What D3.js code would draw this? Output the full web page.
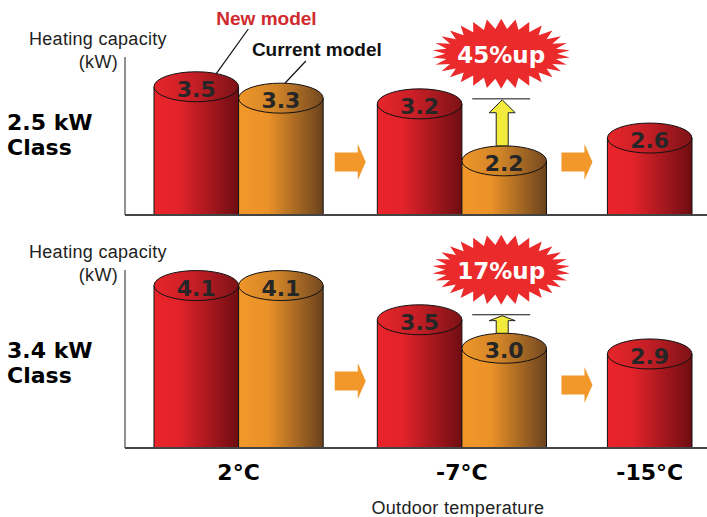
<!DOCTYPE html>
<html>
<head>
<meta charset="utf-8">
<script src="https://cdn.jsdelivr.net/npm/d3@7"></script>
<style>
  html, body { margin: 0; padding: 0; background: #fff; }
  svg { display: block; }
</style>
</head>
<body>
<svg id="chart" width="707" height="517"></svg>
<script>
// ---- data ----
const categories = ["2°C", "-7°C", "-15°C"];
const newModel25 = [3.5, 3.2, 2.6];
const currentModel25 = [3.3, 2.2, null];
const newModel34 = [4.1, 3.5, 2.9];
const currentModel34 = [4.1, 3.0, null];
const classNames = ["2.5 kW", "3.4 kW"];
const seriesNames = ["New model", "Current model"];
const yAxisTitle = ["Heating capacity", "(kW)"];
const xAxisTitle = "Outdoor temperature";
const kwAtBaseline = 1.25;   // value axis is truncated, bars start here
const compareIndex = 1;      // category where the two models are compared (-7°C)

// ---- layout ----
const W = 707, H = 517;
const pxPerKw = 57;
const ry = 15;                       // depth of cylinder tops
const gapUnits = [0.64, 0.72];       // gaps between groups, in bar widths
const axisX = 125;
const boldFont = "'DejaVu Sans', sans-serif";
const plainFont = "'Liberation Sans', Arial, sans-serif";

const panels = [
  { cls: classNames[0], newV: newModel25, curV: currentModel25,
    baseline: 215, axisTop: 57, titleY: 45, classY: 130, flowLift: [53, 53] },
  { cls: classNames[1], newV: newModel34, curV: currentModel34,
    baseline: 448, axisTop: 270, titleY: 258, classY: 358, flowLift: [67, 63] }
];

// slot positions (in bar widths) for each category group
const groupSize = categories.map((c, i) =>
  (currentModel25[i] != null || currentModel34[i] != null) ? 2 : 1);
const groupStart = [];
categories.forEach((c, i) => {
  groupStart.push(i === 0 ? 0 : groupStart[i - 1] + groupSize[i - 1] + gapUnits[i - 1]);
});
const totalUnits = groupStart[groupStart.length - 1] + groupSize[groupSize.length - 1];
const x = d3.scaleLinear().domain([0, totalUnits]).range([154, 692]);
const bw = x(1) - x(0);
const groupCenter = i => (x(groupStart[i]) + x(groupStart[i] + groupSize[i])) / 2;

const svg = d3.select("#chart");
svg.append("rect").attr("width", W).attr("height", H).attr("fill", "#fff");

// ---- gradients ----
const defs = svg.append("defs");
function grad(id, stops) {
  const g = defs.append("linearGradient").attr("id", id)
    .attr("x1", "0%").attr("x2", "100%").attr("y1", "0%").attr("y2", "0%");
  stops.forEach(([o, c]) => g.append("stop").attr("offset", o).attr("stop-color", c));
}
grad("redBody", [["0%", "#ea242a"], ["30%", "#e2232a"], ["100%", "#6e0d12"]]);
grad("orangeBody", [["0%", "#f2982a"], ["35%", "#ea9128"], ["100%", "#6a421e"]]);
grad("redTop", [["0%", "#e6262b"], ["45%", "#c81f26"], ["100%", "#7c1217"]]);
grad("orangeTop", [["0%", "#ef9629"], ["45%", "#d08428"], ["100%", "#744820"]]);

function cylinder(g, x0, v, y, kind) {
  const top = y(v), base = y(kwAtBaseline);
  g.append("rect").attr("x", x0).attr("y", top).attr("width", bw).attr("height", base - top)
    .attr("fill", `url(#${kind}Body)`);
  g.append("path")
    .attr("d", `M${x0},${base} L${x0},${top} M${x0 + bw},${top} L${x0 + bw},${base}`)
    .attr("stroke", "#111").attr("stroke-width", 1).attr("fill", "none");
  g.append("ellipse").attr("cx", x0 + bw / 2).attr("cy", top).attr("rx", bw / 2).attr("ry", ry)
    .attr("fill", `url(#${kind}Top)`).attr("stroke", "#111").attr("stroke-width", 1);
  g.append("text").attr("x", x0 + bw / 2).attr("y", top + 10)
    .attr("text-anchor", "middle").attr("font-family", boldFont).attr("font-weight", "bold")
    .attr("font-size", 22).attr("fill", "#262626").text(v.toFixed(1));
}

function burstPath(cx, cy, rx, ryy, rxIn, ryIn, n) {
  const pts = d3.range(n * 2).map(k => {
    const a = Math.PI * k / n - Math.PI / 2;
    const out = k % 2 === 0;
    return [cx + (out ? rx : rxIn) * Math.cos(a), cy + (out ? ryy : ryIn) * Math.sin(a)];
  });
  return d3.line().curve(d3.curveLinearClosed)(pts);
}

panels.forEach((p, pi) => {
  const g = svg.append("g");
  const y = d3.scaleLinear()
    .domain([kwAtBaseline, kwAtBaseline + (p.baseline - p.axisTop) / pxPerKw])
    .range([p.baseline, p.axisTop]);

  // axis titles and class label
  g.append("text").attr("x", 29).attr("y", p.titleY)
    .attr("font-family", plainFont).attr("font-size", 18).attr("letter-spacing", 0.3)
    .attr("fill", "#1e1e1e").text(yAxisTitle[0]);
  g.append("text").attr("x", 118).attr("y", p.titleY + 23).attr("text-anchor", "end")
    .attr("font-family", plainFont).attr("font-size", 18).attr("letter-spacing", 0.3)
    .attr("fill", "#1e1e1e").text(yAxisTitle[1]);
  const cl = g.append("text").attr("font-family", boldFont).attr("font-weight", "bold")
    .attr("font-size", 22).attr("fill", "#000");
  cl.append("tspan").attr("x", 7).attr("y", p.classY).text(p.cls);
  cl.append("tspan").attr("x", 7).attr("y", p.classY + 25).text("Class");

  // axes
  g.append("line").attr("x1", axisX).attr("x2", axisX)
    .attr("y1", y.range()[1]).attr("y2", y(kwAtBaseline))
    .attr("stroke", "#555").attr("stroke-width", 1.3);

  // flow arrows between temperature groups
  categories.slice(1).forEach((c, i) => {
    const gx = (x(groupStart[i] + groupSize[i]) + x(groupStart[i + 1])) / 2;
    const cy = p.baseline - p.flowLift[i];
    const x0 = gx - 15.5;
    g.append("path")
      .attr("d", `M${x0},${cy - 9.5} L${x0 + 23},${cy - 9.5} L${x0 + 23},${cy - 18} L${x0 + 31},${cy} ` +
                 `L${x0 + 23},${cy + 18} L${x0 + 23},${cy + 9.5} L${x0},${cy + 9.5} Z`)
      .attr("fill", "#f2982a");
  });

  // cylinders
  categories.forEach((c, i) => {
    cylinder(g, x(groupStart[i]), p.newV[i], y, "red");
    if (p.curV[i] != null) cylinder(g, x(groupStart[i] + 1), p.curV[i], y, "orange");
  });

  g.append("line").attr("x1", axisX).attr("x2", W)
    .attr("y1", y(kwAtBaseline)).attr("y2", y(kwAtBaseline))
    .attr("stroke", "#444").attr("stroke-width", 2);

  // improvement marker at the compared temperature
  const ci = compareIndex;
  const nv = p.newV[ci], cv = p.curV[ci];
  const ccx = x(groupStart[ci] + 1) + bw / 2;
  const levelY = y(nv) - 5;
  g.append("line").attr("x1", ccx - 32).attr("x2", ccx + 26)
    .attr("y1", levelY).attr("y2", levelY).attr("stroke", "#111").attr("stroke-width", 1);
  const tip = levelY + 1, bot = y(cv) - ry;
  const head = (bot - tip) * 0.28, ax = ccx - 2;
  g.append("path")
    .attr("d", `M${ax - 6},${bot} L${ax - 6},${tip + head} L${ax - 13},${tip + head} L${ax},${tip} ` +
               `L${ax + 13},${tip + head} L${ax + 6},${tip + head} L${ax + 6},${bot} Z`)
    .attr("fill", "#f3eb3b").attr("stroke", "#222").attr("stroke-width", 1);
  const bcx = ccx - 3, bcy = levelY - 45;
  g.append("path").attr("d", burstPath(bcx, bcy, 69, 35, 56, 25, 30)).attr("fill", "#ea2a2b");
  g.append("text").attr("x", bcx).attr("y", bcy + 9).attr("text-anchor", "middle")
    .attr("font-family", boldFont).attr("font-weight", "bold").attr("font-size", 23)
    .attr("fill", "#fff").text(Math.round((nv / cv - 1) * 100) + "%up");

  // series callouts on the first group of the top panel
  if (pi === 0) {
    const ncx = x(groupStart[0]) + bw / 2, kcx = x(groupStart[0] + 1) + bw / 2;
    const topAt = (cx, dx, v) => y(v) - ry * Math.sqrt(1 - (dx / (bw / 2)) ** 2);
    g.append("line").attr("x1", ncx + 52).attr("y1", 29).attr("x2", ncx + 20)
      .attr("y2", topAt(ncx, 20, p.newV[0])).attr("stroke", "#111").attr("stroke-width", 1.2);
    g.append("line").attr("x1", kcx + 25).attr("y1", 61).attr("x2", kcx + 4)
      .attr("y2", topAt(kcx, 4, p.curV[0])).attr("stroke", "#111").attr("stroke-width", 1.2);
    g.append("text").attr("x", ncx + 20).attr("y", 25)
      .attr("font-family", plainFont).attr("font-weight", "bold").attr("font-size", 19)
      .attr("fill", "#d02a2e").text(seriesNames[0]);
    g.append("text").attr("x", kcx - 29).attr("y", 56)
      .attr("font-family", plainFont).attr("font-weight", "bold").attr("font-size", 19)
      .attr("fill", "#111").text(seriesNames[1]);
  }
});

// temperature labels and x title
categories.forEach((c, i) => {
  svg.append("text").attr("x", groupCenter(i)).attr("y", 480).attr("text-anchor", "middle")
    .attr("font-family", boldFont).attr("font-weight", "bold").attr("font-size", 22)
    .attr("fill", "#000").text(c);
});
svg.append("text").attr("x", groupCenter(compareIndex) - 4).attr("y", 514).attr("text-anchor", "middle")
  .attr("font-family", plainFont).attr("font-size", 18).attr("letter-spacing", 0.3)
  .attr("fill", "#1e1e1e").text(xAxisTitle);
</script>
</body>
</html>
